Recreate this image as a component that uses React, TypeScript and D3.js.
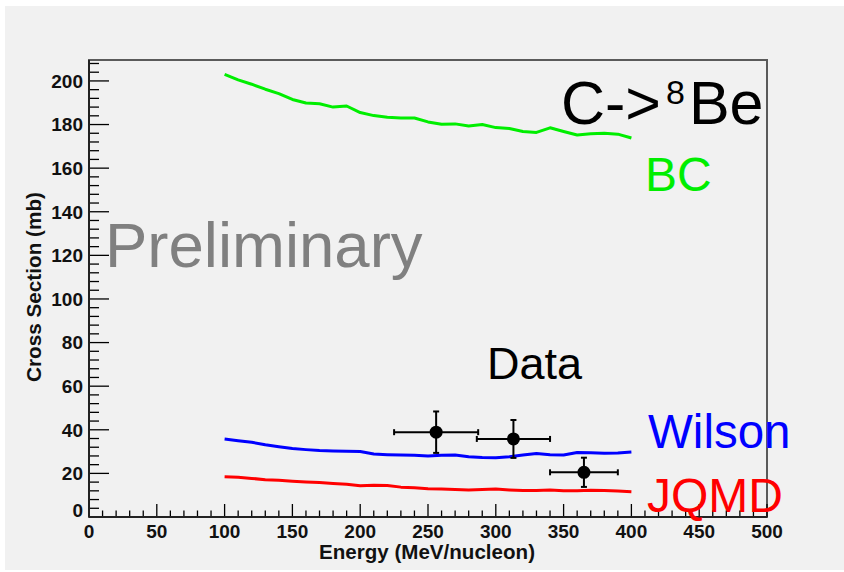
import React from "react";
import * as d3 from "d3";

const energies = [100,110,120,130,140,150,160,170,180,190,200,210,220,230,240,250,260,270,280,290,300,310,320,330,340,350,360,370,380,390,400];
const bcValues = [203.0,200.5,198.5,196.2,194.2,191.5,189.9,189.5,188.0,188.5,185.5,184.1,183.3,183.0,183.0,181.2,180.1,180.3,179.3,180.0,178.6,178.2,176.8,176.4,178.5,176.8,175.2,175.8,176.0,175.6,173.8];
const wilsonValues = [35.8,35.0,34.3,33.1,32.2,31.4,30.9,30.5,30.3,30.1,30.0,28.9,28.6,28.4,28.3,28.0,28.3,28.4,27.6,27.3,27.2,27.6,28.4,29.1,28.6,28.4,29.6,29.5,29.2,29.4,29.8];
const jqmdValues = [18.5,18.2,17.7,17.1,16.8,16.4,16.1,15.8,15.4,15.0,14.3,14.6,14.4,13.7,13.4,13.0,12.8,12.6,12.4,12.6,12.8,12.4,12.1,12.2,12.4,12.0,12.0,12.3,12.2,11.9,11.6];

const dataE = [256, 313, 365];
const dataEErr = [31, 27, 25];
const dataSigma = [38.9, 35.8, 20.5];
const dataSigmaErr = [9.5, 8.7, 6.7];

const xTickLabels = [0, 50, 100, 150, 200, 250, 300, 350, 400, 450, 500];
const yTickLabels = [0, 20, 40, 60, 80, 100, 120, 140, 160, 180, 200];
const xMinorTicks = d3.range(0, 501, 10);
const yMinorTicks = d3.range(0, 209, 4);

const FONT = "'Liberation Sans', Arial, Helvetica, sans-serif";

export default function App() {
  const x = d3.scaleLinear().domain([0, 500]).range([89, 767]);
  const y = d3.scaleLinear().domain([0, 209.6]).range([517, 60]);
  const line = d3
    .line<number>()
    .x((_, i) => x(energies[i]))
    .y((d) => y(d));

  const series = [
    { vals: bcValues, color: "#00ee00" },
    { vals: wilsonValues, color: "#0000ff" },
    { vals: jqmdValues, color: "#ff0000" },
  ];

  return (
    <svg
      width={844}
      height={572}
      style={{ position: "absolute", left: 0, top: 0, background: "#ffffff" }}
      fontFamily={FONT}
    >
      <rect x={5} y={6} width={839} height={564} fill="#f1f1f1" />

      {/* frame */}
      <rect x={89} y={60} width={678} height={457} fill="none" stroke="#5a5a5a" strokeWidth={2} />

      {/* ticks */}
      {yMinorTicks.map((t) => {
        const major = t % 20 === 0;
        return (
          <line key={"ym" + t} x1={89} x2={89 + (major ? 20 : 10)} y1={y(t)} y2={y(t)} stroke="#000" strokeWidth={1.3} />
        );
      })}
      {xMinorTicks.map((t) => {
        const major = t % 50 === 0;
        return (
          <line key={"xm" + t} x1={x(t)} x2={x(t)} y1={517} y2={517 - (major ? 13 : 6.5)} stroke="#000" strokeWidth={1.3} />
        );
      })}
      <line x1={89} x2={89} y1={60} y2={517} stroke="#222" strokeWidth={2} />
      <line x1={89} x2={767} y1={517} y2={517} stroke="#222" strokeWidth={2} />

      {/* tick labels */}
      {yTickLabels.map((t) => (
        <text
          key={"yl" + t}
          x={83}
          y={y(t) + (t === 0 ? -7 : 0)}
          dy="0.36em"
          textAnchor="end"
          fontWeight="bold"
          fontSize={19}
          fill="#111"
        >
          {t}
        </text>
      ))}
      {xTickLabels.map((t) => (
        <text key={"xl" + t} x={x(t)} y={538} textAnchor="middle" fontWeight="bold" fontSize={19} fill="#111">
          {t}
        </text>
      ))}

      {/* axis titles */}
      <text x={427} y={559} textAnchor="middle" fontWeight="bold" fontSize={19.5} fill="#111" textLength={216} lengthAdjust="spacingAndGlyphs">
        Energy (MeV/nucleon)
      </text>
      <text
        transform="translate(41,287) rotate(-90)"
        textAnchor="middle"
        fontWeight="bold"
        fontSize={19.5}
        fill="#111"
        textLength={190}
        lengthAdjust="spacingAndGlyphs"
      >
        Cross Section (mb)
      </text>

      {/* curves */}
      {series.map((s, i) => (
        <path key={"s" + i} d={line(s.vals) || ""} fill="none" stroke={s.color} strokeWidth={3} strokeLinejoin="round" />
      ))}

      {/* data points */}
      {dataE.map((e, i) => {
        const cx = x(e);
        const cy = y(dataSigma[i]);
        const xl = x(e - dataEErr[i]);
        const xr = x(e + dataEErr[i]);
        const yt = y(dataSigma[i] + dataSigmaErr[i]);
        const yb = y(dataSigma[i] - dataSigmaErr[i]);
        return (
          <g key={"d" + i} stroke="#000" strokeWidth={2}>
            <line x1={xl} x2={xr} y1={cy} y2={cy} />
            <line x1={cx} x2={cx} y1={yt} y2={yb} />
            <line x1={xl} x2={xl} y1={cy - 3} y2={cy + 3} />
            <line x1={xr} x2={xr} y1={cy - 3} y2={cy + 3} />
            <line x1={cx - 3} x2={cx + 3} y1={yt} y2={yt} />
            <line x1={cx - 3} x2={cx + 3} y1={yb} y2={yb} />
            <circle cx={cx} cy={cy} r={6.5} fill="#000" stroke="none" />
          </g>
        );
      })}

      {/* labels */}
      <text x={105} y={267} fontSize={63.5} fill="#808080">Preliminary</text>
      <text x={561} y={124} fontSize={61} fill="#000">
        C-&gt;
        <tspan dx={5} dy={-20} fontSize={34}>8</tspan>
        <tspan dx={4} dy={20} fontSize={61}>Be</tspan>
      </text>
      <text x={645} y={191} fontSize={48} fill="#00ee00">BC</text>
      <text x={487} y={379} fontSize={45} fill="#000">Data</text>
      <text x={648} y={448} fontSize={47.5} fill="#0000ff">Wilson</text>
      <text x={647} y={512} fontSize={48} fill="#ff0000">JQMD</text>
    </svg>
  );
}
